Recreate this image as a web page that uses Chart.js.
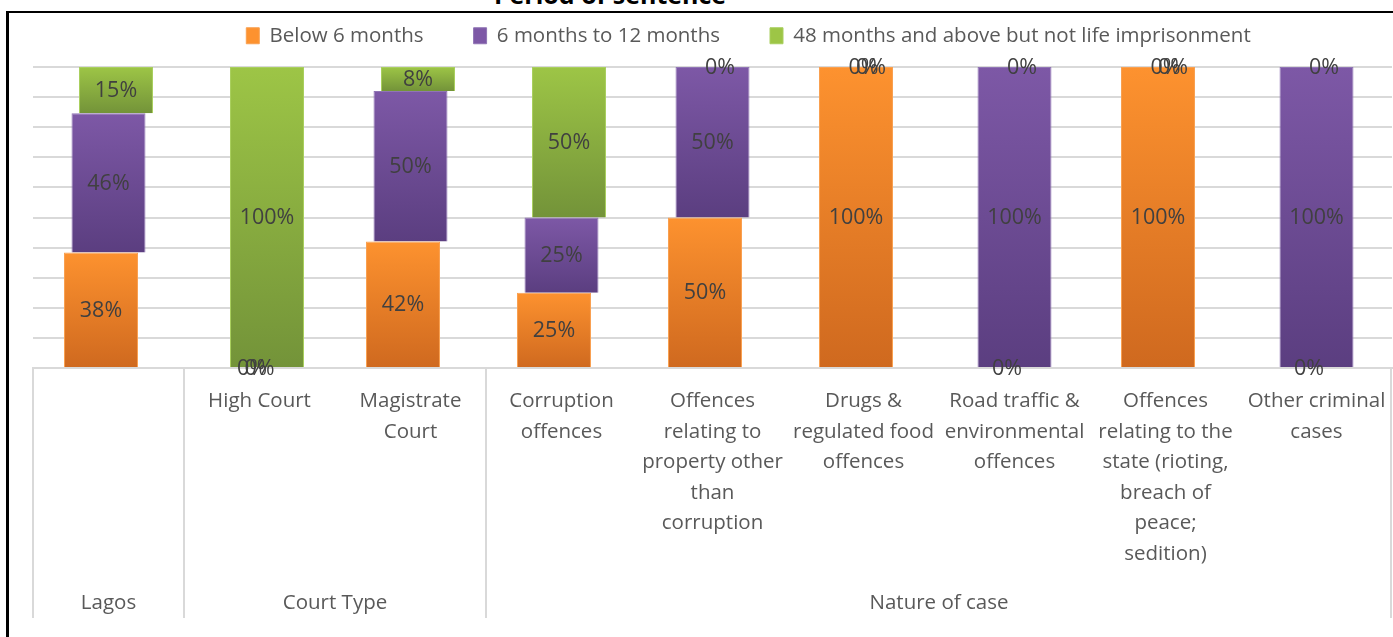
<!DOCTYPE html>
<html>
<head>
<meta charset="utf-8">
<script src="https://cdn.jsdelivr.net/npm/chart.js@4.4.1/dist/chart.umd.min.js"></script>
<style>
    html, body {
        margin: 0;
        padding: 0;
        width: 1393px;
        height: 637px;
        overflow: hidden;
        background: #fff;
    }
    #title {
        position: absolute;
        left: 410px;
        top: -18px;
        width: 400px;
        text-align: center;
        font: bold 25px 'Open Sans', sans-serif;
        line-height: 25px;
        color: #000;
    }
    #frameLeft {
        position: absolute;
        left: 6px;
        top: 11px;
        width: 3px;
        height: 626px;
        background: #000;
        z-index: 2;
    }
    #frameTop {
        position: absolute;
        left: 6px;
        top: 11px;
        width: 1387px;
        height: 2px;
        background: #000;
        z-index: 2;
    }
    #wrap {
        position: absolute;
        left: 0;
        top: -30px;
        width: 1393px;
        height: 667px;
    }
    canvas {
        display: block;
    }
</style>
</head>
<body>
<div id="title">Period of sentence</div>
<div id="frameLeft"></div>
<div id="frameTop"></div>
<div id="wrap"><canvas id="chart" width="1393" height="667"></canvas></div>

<script>
'use strict';

// Kategorier (radbrytna som i originalet)
const categories = [
    [''],
    ['High Court'],
    ['Magistrate', 'Court'],
    ['Corruption', 'offences'],
    ['Offences', 'relating to', 'property other', 'than', 'corruption'],
    ['Drugs &', 'regulated food', 'offences'],
    ['Road traffic &', 'environmental', 'offences'],
    ['Offences', 'relating to the', 'state (rioting,', 'breach of', 'peace;', 'sedition)'],
    ['Other criminal', 'cases'],
];

// Grupper under kategorierna
const groupNames = ['Lagos', 'Court Type', 'Nature of case'];
const groupSizes = [1, 2, 6];

const seriesNames = [
    'Below 6 months',
    '6 months to 12 months',
    '48 months and above but not life imprisonment',
];

// Andelar i procent
const below6 = [38.4, 0, 42, 25, 50, 100, 0, 100, 0];
const months6to12 = [46.2, 0, 50, 25, 50, 0, 100, 0, 100];
const months48plus = [15.4, 100, 8, 50, 0, 0, 0, 0, 0];

const yTicks = [0, 10, 20, 30, 40, 50, 60, 70, 80, 90, 100];

const FONT = "'Open Sans', sans-serif";
const seriesShift = 7.5;

/* Gradient per stapel, från toppen till botten av segmentet */
function barGradient(top, bottom) {
    return (c) => {
        const chart = c.chart;
        if (!chart.chartArea || !chart.scales.y) {
            return top;
        }
        const y = chart.scales.y;
        let lo = 0;
        for (let d = 0; d < c.datasetIndex; d++) {
            lo += chart.data.datasets[d].data[c.dataIndex];
        }
        const hi = lo + (c.raw || 0);
        const yTop = y.getPixelForValue(hi);
        const yBot = y.getPixelForValue(lo);
        if (!isFinite(yTop) || yBot - yTop < 1) {
            return top;
        }
        const g = chart.ctx.createLinearGradient(0, yTop, 0, yBot);
        g.addColorStop(0, top);
        g.addColorStop(1, bottom);
        return g;
    };
}

// Förskjut varje serie lite i sidled, som i Excel-diagrammet
const shiftPlugin = {
    id: 'shiftSeries',
    afterDatasetsUpdate(chart) {
        chart.getSortedVisibleDatasetMetas().forEach((meta) => {
            const dx = (meta.index - 1) * seriesShift;
            meta.data.forEach((el) => {
                el.x += dx;
            });
        });
    },
    afterLayout(chart) {
        // legenden ligger lite till höger om mitten i originalet
        if (chart.legend) {
            chart.legend.left += 36;
            chart.legend.right += 36;
        }
    },
};

// Etiketter mitt i varje segment
const labelPlugin = {
    id: 'segmentLabels',
    afterDatasetsDraw(chart) {
        const ctx = chart.ctx;
        ctx.save();
        ctx.font = '21.5px ' + FONT;
        ctx.fillStyle = '#404040';
        ctx.textAlign = 'center';
        ctx.textBaseline = 'middle';
        chart.data.datasets.forEach((ds, i) => {
            const meta = chart.getDatasetMeta(i);
            meta.data.forEach((el, j) => {
                const v = ds.data[j];
                ctx.fillText(Math.round(v) + '%', el.x, (el.y + el.base) / 2 + 1);
            });
        });
        ctx.restore();
    },
};

// Gruppnamn och avdelare under x-axeln
const groupPlugin = {
    id: 'groupAxis',
    afterDraw(chart) {
        const ctx = chart.ctx;
        const x = chart.scales.x;
        const top = chart.chartArea.bottom;
        const half = (x.getPixelForValue(1) - x.getPixelForValue(0)) / 2;
        ctx.save();
        ctx.strokeStyle = '#d9d9d9';
        ctx.lineWidth = 2;
        ctx.font = '20.5px ' + FONT;
        ctx.fillStyle = '#595959';
        ctx.textAlign = 'center';
        ctx.textBaseline = 'middle';
        let start = 0;
        const edges = [x.left];
        groupSizes.forEach((size, g) => {
            const end = start + size - 1;
            const left = x.getPixelForValue(start) - half;
            const right = x.getPixelForValue(end) + half;
            edges.push(g === groupSizes.length - 1 ? x.right - 1 : right);
            ctx.fillText(groupNames[g], (left + right) / 2, top + 235);
            start += size;
        });
        edges.forEach((ex) => {
            ctx.beginPath();
            ctx.moveTo(ex, top);
            ctx.lineTo(ex, top + 250);
            ctx.stroke();
        });
        ctx.restore();
    },
};

const chartEl = document.getElementById('chart');

new Chart(chartEl, {
    type: 'bar',
    plugins: [shiftPlugin, labelPlugin, groupPlugin],
    data: {
        labels: categories,
        datasets: [
            {
                label: seriesNames[0],
                data: below6,
                backgroundColor: barGradient('#fd922f', '#cf691f'),
                borderColor: '#f9a050',
                borderWidth: (c) => (c.raw === 0 ? 0 : 1),
            },
            {
                label: seriesNames[1],
                data: months6to12,
                backgroundColor: barGradient('#7d58a6', '#5b3e80'),
                borderColor: '#9075b5',
                borderWidth: (c) => (c.raw === 0 ? 0 : 1),
            },
            {
                label: seriesNames[2],
                data: months48plus,
                backgroundColor: barGradient('#9dc546', '#739339'),
                borderColor: '#a9cf5e',
                borderWidth: (c) => (c.raw === 0 ? 0 : 1),
            },
        ],
    },
    options: {
        responsive: false,
        animation: false,
        layout: {
            autoPadding: false,
            padding: { left: 33, right: 1, top: 5.5, bottom: 19 },
        },
        datasets: {
            bar: {
                categoryPercentage: 1,
                barPercentage: 0.49,
            },
        },
        scales: {
            x: {
                stacked: true,
                grid: { display: false, drawTicks: false },
                border: { display: true, color: '#d9d9d9', width: 2 },
                ticks: {
                    autoSkip: false,
                    maxRotation: 0,
                    minRotation: 0,
                    padding: 18,
                    color: '#595959',
                    font: { family: FONT, size: 20.5, lineHeight: 1.49 },
                },
                afterFit: (scale) => {
                    // fast höjd för kategoriområdet, ingen extra sidmarginal
                    scale.height = 250;
                    scale.paddingLeft = 0;
                    scale.paddingRight = 0;
                },
            },
            y: {
                stacked: true,
                min: 0,
                max: 100,
                afterBuildTicks: (scale) => {
                    scale.ticks = yTicks.map((v) => ({ value: v }));
                },
                grid: { color: '#d9d9d9', lineWidth: 2, drawTicks: false },
                border: { display: false },
                ticks: { display: false },
            },
        },
        plugins: {
            legend: {
                position: 'top',
                labels: {
                    boxWidth: 13,
                    boxHeight: 16,
                    padding: 50,
                    color: '#595959',
                    font: { family: FONT, size: 20.5 },
                },
            },
            subtitle: {
                display: true,
                text: '',
                weight: 500,
                font: { size: 1, lineHeight: 1 },
                padding: { top: 0, bottom: 10 },
            },
            tooltip: { enabled: false },
        },
    },
});
</script>
</body>
</html>
